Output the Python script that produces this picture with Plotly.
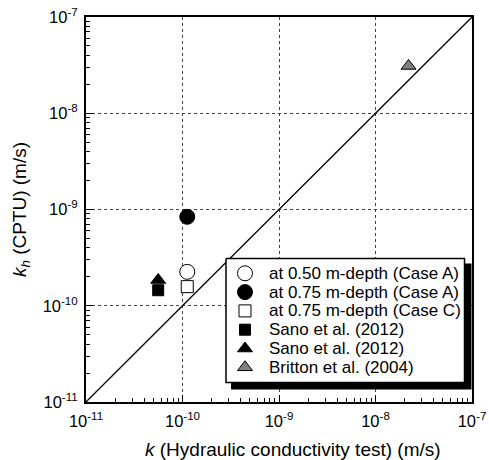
import plotly.graph_objects as go

# ---- data ----
series_names = [
    "at 0.50 m-depth (Case A)",
    "at 0.75 m-depth (Case A)",
    "at 0.75 m-depth (Case C)",
    "Sano et al. (2012)",
    "Sano et al. (2012)",
    "Britton et al. (2004)",
]
k_test = [1.12e-10, 1.12e-10, 1.12e-10, 5.6e-11, 5.6e-11, 2.2e-8]
kh_cptu = [2.25e-10, 8.4e-10, 1.58e-10, 1.45e-10, 1.85e-10, 3.1e-8]

line_x = [1e-11, 1e-7]
line_y = [1e-11, 1e-7]

major_vals = [1e-11, 1e-10, 1e-9, 1e-8, 1e-7]
major_text = ["10<sup>-11</sup>", "10<sup>-10</sup>", "10<sup>-9</sup>", "10<sup>-8</sup>", "10<sup>-7</sup>"]
minor_vals = [m * 10.0 ** e for e in range(-11, -7) for m in range(2, 10)]

x_title = "<i>k</i> (Hydraulic conductivity test) (m/s)"
y_title = "<i>k<sub>h</sub></i> (CPTU) (m/s)"

symbols = ["circle", "circle", "square", "square", "triangle-up", "triangle-up"]
fills = ["white", "black", "white", "black", "black", "#808080"]
sizes = [15, 15, 12, 11, 13, 13]

FONT = "Liberation Sans, Arial, sans-serif"

L, R, T, B = 86, 17, 17, 58
W, H = 489, 460
pw, ph = W - L - R, H - T - B

def px_x(p):
    return (p - L) / pw

def px_y(p):
    return (H - B - p) / ph

fig = go.Figure()
fig.add_trace(go.Scatter(x=line_x, y=line_y, mode="lines",
                         line=dict(color="black", width=1.3), showlegend=False,
                         hoverinfo="skip"))
for name, x, y, sy, fc, sz in zip(series_names, k_test, kh_cptu, symbols, fills, sizes):
    fig.add_trace(go.Scatter(x=[x], y=[y], mode="markers", name=name, showlegend=False,
                             marker=dict(symbol=sy, color=fc, size=sz, opacity=1,
                                         line=dict(color="black", width=1))))

# ---- manual legend (on an overlay of the plot area in 0..1 units) ----
box_l, box_t, box_r, box_b = 226, 258.5, 464.5, 382.5
shadow = 7
row0, row_h = 273.3, 18.8
sym_x, txt_x = 245, 267

def rect(x0, y0, x1, y1):
    xs = [px_x(x0), px_x(x1), px_x(x1), px_x(x0), px_x(x0)]
    ys = [px_y(y0), px_y(y0), px_y(y1), px_y(y1), px_y(y0)]
    return xs, ys

sx, sy_ = rect(box_l + 5, box_t + 5, box_r + shadow, box_b + shadow)
fig.add_trace(go.Scatter(x=sx, y=sy_, xaxis="x2", yaxis="y2", mode="lines", fill="toself",
                         fillcolor="black", line=dict(color="black", width=0),
                         showlegend=False, hoverinfo="skip", cliponaxis=False))
bx, by = rect(box_l, box_t, box_r, box_b)
fig.add_trace(go.Scatter(x=bx, y=by, xaxis="x2", yaxis="y2", mode="lines", fill="toself",
                         fillcolor="white", line=dict(color="black", width=1.5),
                         showlegend=False, hoverinfo="skip"))
rows_y = [px_y(row0 + i * row_h) for i in range(len(series_names))]
for sy, fc, sz, ry in zip(symbols, fills, sizes, rows_y):
    fig.add_trace(go.Scatter(x=[px_x(sym_x)], y=[ry],
                             xaxis="x2", yaxis="y2", mode="markers", showlegend=False,
                             hoverinfo="skip",
                             marker=dict(symbol=sy, color=fc, size=sz, opacity=1,
                                         line=dict(color="black", width=1))))
for name, ry in zip(series_names, rows_y):
    fig.add_annotation(x=px_x(txt_x), y=ry, xref="paper", yref="paper",
                       text=name, showarrow=False, xanchor="left", yanchor="middle",
                       font=dict(family=FONT, size=17, color="black"))

# x-axis title (slightly right of centre, as in the original)
fig.add_annotation(x=px_x(293), y=px_y(449), xref="paper", yref="paper",
                   text=x_title, showarrow=False, xanchor="center", yanchor="middle",
                   font=dict(family=FONT, size=19, color="black"))

axis_common = dict(
    type="log", range=[-11, -7], tickmode="array", tickvals=major_vals, ticktext=major_text,
    ticks="inside", ticklen=7, tickwidth=1, tickcolor="black",
    showline=True, linecolor="black", linewidth=2, mirror=True,
    showgrid=True, gridcolor="#444444", griddash="dot", gridwidth=1,
    zeroline=False, automargin=False, ticklabelstandoff=3,
    tickfont=dict(family=FONT, size=16.5, color="black"),
    minor=dict(tickmode="array", tickvals=minor_vals, ticks="inside", ticklen=4,
               tickwidth=1, tickcolor="black", showgrid=False),
)

fig.update_layout(
    width=W, height=H,
    margin=dict(l=L, r=R, t=T, b=B, pad=0, autoexpand=False),
    plot_bgcolor="white", paper_bgcolor="white",
    font=dict(family=FONT, size=16, color="black"),
    xaxis=dict(axis_common),
    yaxis=dict(axis_common, title=dict(text=y_title, font=dict(size=19), standoff=11)),
    xaxis2=dict(overlaying="x", range=[0, 1], visible=False, fixedrange=True, automargin=False),
    yaxis2=dict(overlaying="y", range=[0, 1], visible=False, fixedrange=True, automargin=False),
    showlegend=False,
)

fig.write_html("out.html")
